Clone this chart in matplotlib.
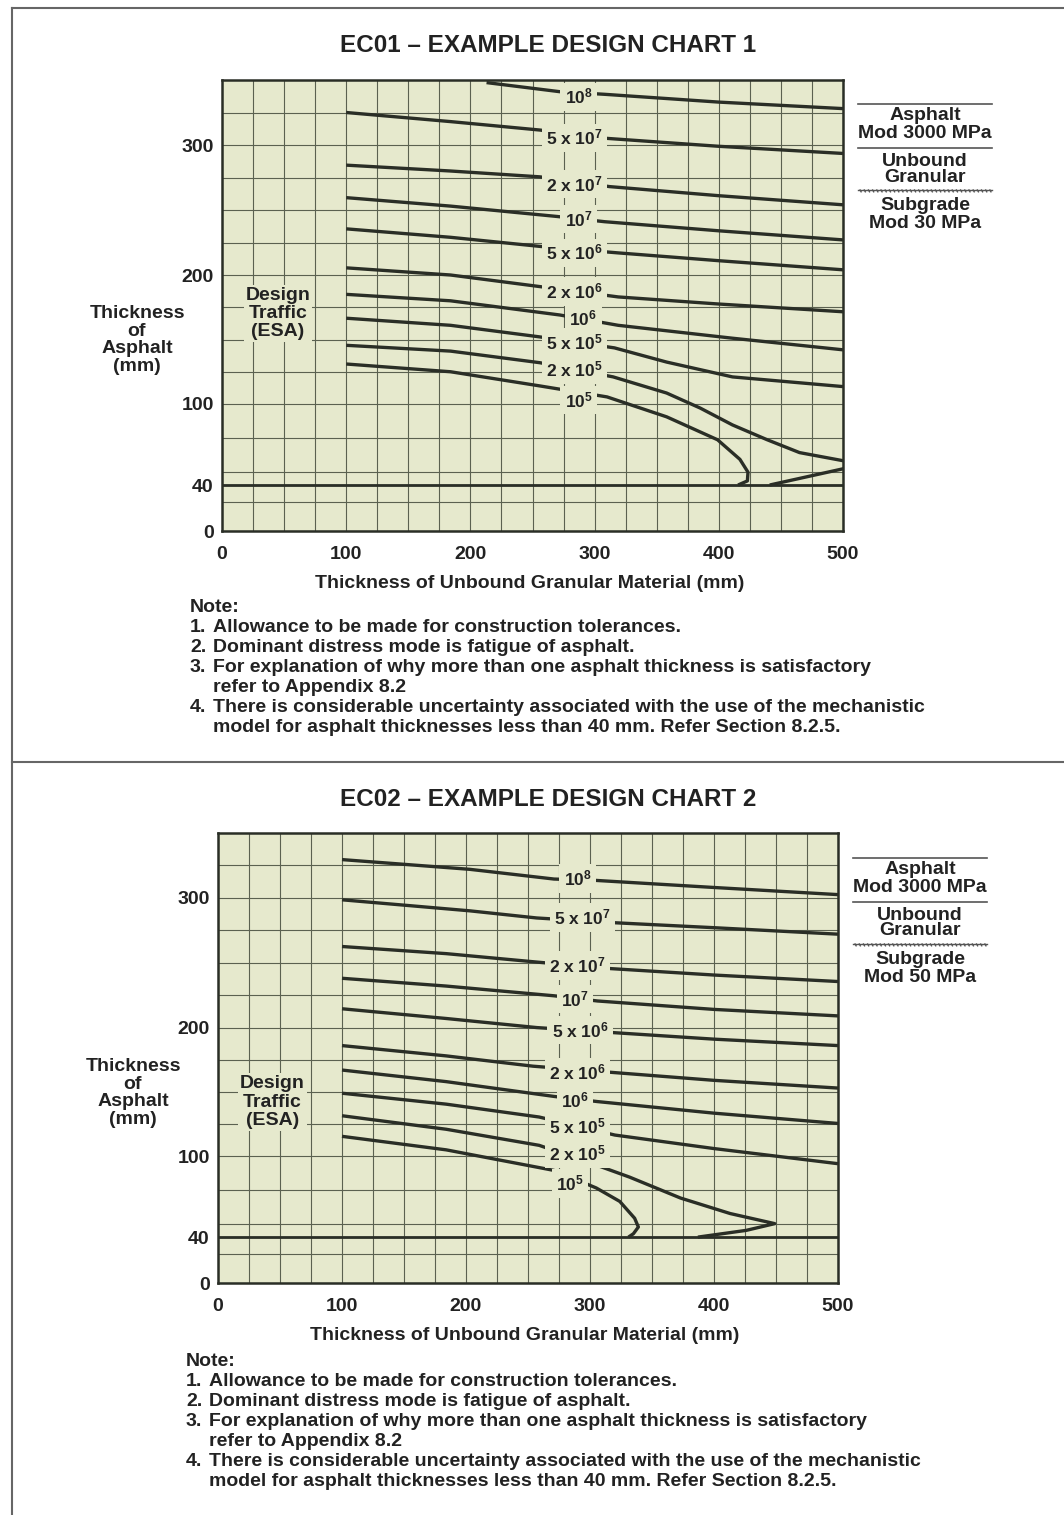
import numpy as np
import matplotlib
matplotlib.use("Agg")
import matplotlib.pyplot as plt
import matplotlib.patheffects as pe
from matplotlib.lines import Line2D

plt.rcParams['font.family'] = ['Liberation Sans', 'DejaVu Sans']
plt.rcParams['font.weight'] = 'bold'
plt.rcParams['mathtext.fontset'] = 'custom'
plt.rcParams['mathtext.bf'] = 'Liberation Sans:bold'
plt.rcParams['mathtext.rm'] = 'Liberation Sans:bold'
plt.rcParams['mathtext.default'] = 'bf'

W, H = 1064, 1515
BG = '#e6e9cd'
INK = '#2a2e26'
GRID = '#5b6150'
TXT = '#222222'
FS = 14

# ---- data -------------------------------------------------------------
traffic = ["10$^8$", "5 x 10$^7$", "2 x 10$^7$", "10$^7$", "5 x 10$^6$",
           "2 x 10$^6$", "10$^6$", "5 x 10$^5$", "2 x 10$^5$", "10$^5$"]

x_ticks = [0, 100, 200, 300, 400, 500]
y_ticks = [0, 40, 100, 200, 300]

# EC01 (subgrade 30 MPa): granular thickness (mm) -> asphalt thickness (mm)
ec01_x = [
    [213, 272, 308, 400, 500],
    [100, 184, 256, 304, 400, 500],
    [100, 184, 256, 312, 400, 500],
    [100, 184, 270, 308, 400, 500],
    [100, 184, 256, 319, 400, 500],
    [100, 184, 256, 319, 400, 500],
    [100, 184, 272, 319, 411, 500],
    [100, 184, 256, 316, 358, 411, 500],
    [100, 184, 256, 315, 358, 385, 411, 439, 465, 500, 512, 500, 441],
    [100, 184, 256, 310, 358, 399, 417, 423.5, 423, 415.5],
]
ec01_y = [
    [348, 341, 339, 333, 328],
    [325, 318, 311.5, 305.5, 299, 293.5],
    [284.5, 280, 275.5, 268, 261, 254],
    [259.5, 253, 245, 241, 234, 227],
    [235.5, 229, 222, 217, 211, 204],
    [205.5, 200, 191, 183, 177.5, 171.5],
    [185, 180, 169, 161, 151, 142],
    [166.5, 161, 152, 143.5, 132.5, 121, 113.5],
    [145.5, 141, 132, 121, 108.5, 97, 84.5, 73.5, 64, 58, 55, 52, 40],
    [131, 125, 114, 105.5, 90.5, 73.5, 59, 49.5, 43, 40],
]
ec01_lx = [287, 284, 284, 287, 284, 284, 291, 284, 284, 287]
ec01_ly = [337, 305.5, 270, 243, 217, 187, 166.5, 147.5, 126.5, 103]

# EC02 (subgrade 50 MPa)
ec02_x = [
    [100, 203, 271, 304, 400, 500],
    [100, 203, 257, 316, 400, 500],
    [100, 184, 257, 316, 400, 500],
    [100, 184, 271, 306, 400, 500],
    [100, 184, 257, 320, 400, 500],
    [100, 184, 254, 320, 400, 500],
    [100, 184, 271, 306, 400, 500],
    [100, 184, 259, 320, 400, 500],
    [100, 184, 259, 302, 332, 373, 413, 449, 426, 387],
    [100, 184, 271, 305, 324, 336, 339, 335, 331],
]
ec02_y = [
    [329.5, 322, 314.5, 313.5, 308, 302.5],
    [298.5, 290, 284.5, 281, 277, 272],
    [262.5, 257, 250.5, 245.5, 240.5, 235.5],
    [238, 232, 224.5, 220.5, 214, 209],
    [214.5, 207, 200, 196, 191, 186],
    [186, 178, 170, 165, 159, 153],
    [167, 158, 146.5, 142.5, 133.5, 125.5],
    [149, 140.5, 130.5, 116.5, 106, 94.5],
    [131.5, 121, 108.5, 94.5, 84.5, 69, 57.5, 50, 45, 40],
    [115.5, 105, 89.5, 76.5, 66.5, 54, 47.5, 42.5, 40],
]
ec02_lx = [290, 294, 290, 288, 292, 290, 288, 290, 290, 284]
ec02_ly = [315, 285, 248, 222, 198, 165, 143, 123.5, 102, 80]

notes = [
    "Allowance to be made for construction tolerances.",
    "Dominant distress mode is fatigue of asphalt.",
    "For explanation of why more than one asphalt thickness is satisfactory\nrefer to Appendix 8.2",
    "There is considerable uncertainty associated with the use of the mechanistic\n"
    "model for asphalt thicknesses less than 40 mm. Refer Section 8.2.5.",
]

# the printed y axis is not quite linear, follow the tick spacing of the original
Y_DATA = [0, 40, 100, 200, 300, 400]
Y_PIX = [0, 46, 127, 256, 386, 516]


def fwd(y):
    return np.interp(y, Y_DATA, Y_PIX)


def inv(p):
    return np.interp(p, Y_PIX, Y_DATA)


def fxy(x, y):
    return x / W, 1 - y / H


fig = plt.figure(figsize=(W / 100, H / 100), dpi=100)


def hline(x0, x1, y, **kw):
    fig.add_artist(Line2D([x0 / W, x1 / W], [1 - y / H, 1 - y / H], **kw))


def ftext(x, y, s, **kw):
    kw.setdefault('ha', 'center')
    kw.setdefault('va', 'center')
    kw.setdefault('fontsize', FS)
    kw.setdefault('color', TXT)
    fig.text(*fxy(x, y), s, **kw)


def draw_chart(rect, xs, ys, lx, ly, title, title_y, subgrade, legend_cx, legend_y,
               ylabel_xy, design_xy, xlabel_xy, notes_xy):
    left, top, right, bottom = rect
    ax = fig.add_axes([left / W, 1 - bottom / H, (right - left) / W, (bottom - top) / H])
    ax.set_facecolor(BG)
    ax.set_yscale('function', functions=(fwd, inv))
    ax.set_xlim(0, 500)
    ax.set_ylim(0, 350)
    ax.set_xticks(x_ticks)
    ax.set_yticks(y_ticks)
    ax.set_xticks(np.arange(0, 501, 25), minor=True)
    ax.set_yticks(np.arange(25, 350, 25), minor=True)
    ax.grid(which='both', color=GRID, lw=0.8)
    ax.set_axisbelow(True)
    ax.tick_params(which='both', length=0)
    ax.tick_params(axis='x', pad=11, labelsize=FS, labelcolor=TXT)
    ax.tick_params(axis='y', pad=6, labelsize=FS, labelcolor=TXT)
    for s in ax.spines.values():
        s.set_color(INK)
        s.set_linewidth(1.8)

    ax.axhline(40, color=INK, lw=2.0, zorder=2)
    for cx, cy in zip(xs, ys):
        ax.plot(cx, cy, color=INK, lw=2.4, solid_capstyle='butt', zorder=3)
    for t, x, y in zip(traffic, lx, ly):
        ax.text(x, y, t, ha='center', va='center', fontsize=12.5, color=TXT, zorder=4,
                bbox=dict(boxstyle='square,pad=0.25', fc=BG, ec='none'))

    ax.text(*design_xy, "Design\nTraffic\n(ESA)", ha='center', va='center',
            fontsize=FS, color=TXT, linespacing=1.1,
            transform=ax.transData, zorder=4,
            bbox=dict(boxstyle='square,pad=0.1', fc=BG, ec='none'))

    ftext(548, title_y, title, fontsize=17.5)
    ftext(*ylabel_xy, "Thickness\nof\nAsphalt\n(mm)", linespacing=1.07)
    ftext(*xlabel_xy, "Thickness of Unbound Granular Material (mm)")

    # layer legend on the right
    x0, x1 = legend_cx - 67, legend_cx + 67
    hline(x0, x1, legend_y, color='#555555', lw=1.2)
    ftext(legend_cx, legend_y + 12, "Asphalt")
    ftext(legend_cx, legend_y + 29, "Mod 3000 MPa")
    hline(x0, x1, legend_y + 44, color='#555555', lw=1.2)
    ftext(legend_cx, legend_y + 57, "Unbound")
    ftext(legend_cx, legend_y + 73, "Granular")
    hline(x0, x1, legend_y + 86, color='#555555', lw=1.0,
          path_effects=[pe.withTickedStroke(angle=-60, spacing=3, length=0.5, linewidth=1.0)])
    ftext(legend_cx, legend_y + 102, "Subgrade")
    ftext(legend_cx, legend_y + 120, subgrade)

    # notes
    nx, ny = notes_xy
    ftext(nx, ny, "Note:", ha='left')
    row = 1
    for i, n in enumerate(notes):
        y = ny + 21 + (row - 1) * 19.8
        ftext(nx, y, f"{i + 1}.", ha='left')
        for j, part in enumerate(n.split("\n")):
            ftext(nx + 23, y + j * 19.8, part, ha='left')
            row += 1
    return ax


draw_chart((222, 80, 843, 531), ec01_x, ec01_y, ec01_lx, ec01_ly,
           "EC01 \u2013 EXAMPLE DESIGN CHART 1", 46, "Mod 30 MPa", 925, 104,
           (137, 340), (45, 170), (530, 583), (190, 607))
draw_chart((218, 833, 838, 1283), ec02_x, ec02_y, ec02_lx, ec02_ly,
           "EC02 \u2013 EXAMPLE DESIGN CHART 2", 800, "Mod 50 MPa", 920, 858,
           (133, 1093), (44, 142), (525, 1336), (186, 1361))

# page frame
fig.add_artist(Line2D([12 / W, 12 / W], [1 - 8 / H, 0], color='#666666', lw=1.5))
hline(12, W, 8, color='#666666', lw=1.5)
hline(12, W, 762, color='#666666', lw=1.5)

fig.savefig("out.png", dpi=100, facecolor='white')
